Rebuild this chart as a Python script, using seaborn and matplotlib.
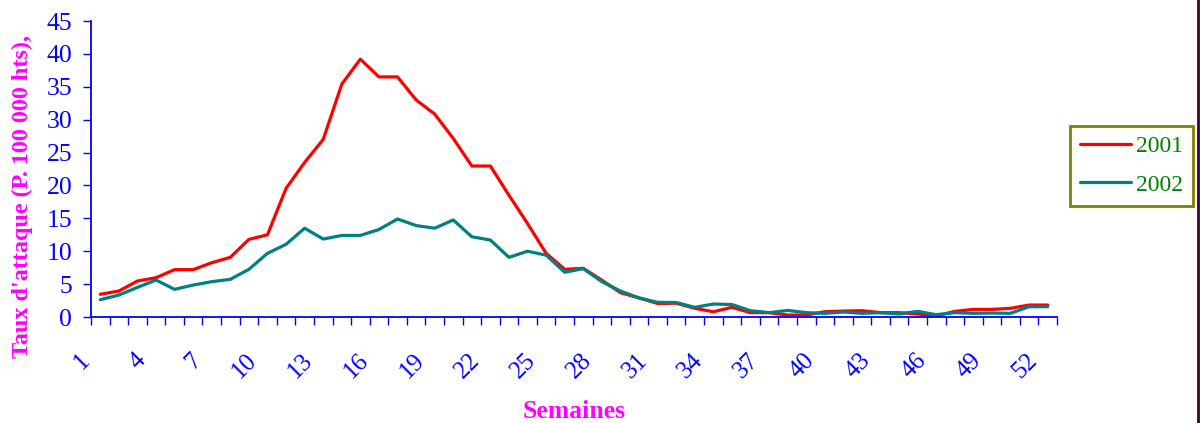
import matplotlib
matplotlib.use("Agg")
import matplotlib.pyplot as plt
import matplotlib.transforms as mtransforms
from matplotlib.lines import Line2D
import numpy as np
import pandas as pd
import seaborn as sns

# ---- data ----
weeks = list(range(1, 53))
tick_weeks = list(range(1, 53, 3))
tick_labels = [str(w) for w in tick_weeks]
series_names = ["2001", "2002"]
rate_2001 = [3.45, 3.95, 5.47, 5.97, 7.2, 7.2, 8.25, 9.07, 11.8, 12.5,
             19.55, 23.5, 27.0, 35.4, 39.2, 36.5, 36.5, 33.0, 30.85, 27.15,
             22.95, 22.95, 18.5, 14.2, 9.68, 7.25, 7.4, 5.6, 3.7, 2.9,
             2.05, 2.1, 1.32, 0.8, 1.47, 0.66, 0.66, 0.3, 0.3, 0.8,
             0.9, 0.96, 0.66, 0.66, 0.46, 0.15, 0.86, 1.16, 1.16, 1.32,
             1.82, 1.82]
rate_2002 = [2.63, 3.34, 4.5, 5.62, 4.2, 4.86, 5.37, 5.73, 7.25, 9.68,
             11.05, 13.5, 11.85, 12.4, 12.4, 13.3, 14.9, 13.9, 13.5, 14.75,
             12.2, 11.7, 9.07, 10.0, 9.4, 6.8, 7.35, 5.37, 3.95, 2.9,
             2.23, 2.2, 1.47, 1.97, 1.9, 0.96, 0.66, 1.0, 0.66, 0.56,
             0.76, 0.56, 0.66, 0.46, 0.86, 0.35, 0.66, 0.56, 0.6, 0.56,
             1.57, 1.57]
y_ticks = list(range(0, 46, 5))

RED = "#FF0000"
TEAL = "#008080"
BLUE = "#0000FF"
MAGENTA = "#FF00FF"
GREEN = "#008000"
OLIVE = "#808000"

sns.set_style("ticks")
plt.rcParams["font.family"] = ["Liberation Serif", "DejaVu Serif"]

W, H = 1200, 423
fig = plt.figure(figsize=(W / 100, H / 100), dpi=100)
ax = fig.add_axes([91 / W, 1 - 317 / H, (1057 - 91) / W, (317 - 21) / H])

df = pd.DataFrame({
    "Semaine": weeks * 2,
    "Taux": rate_2001 + rate_2002,
    "Annee": [series_names[0]] * len(weeks) + [series_names[1]] * len(weeks),
})
sns.lineplot(data=df, x="Semaine", y="Taux", hue="Annee",
             palette=[RED, TEAL], linewidth=2.3, ax=ax, legend=False)

ax.set_xlim(0.5, 52.5)
ax.set_ylim(0, 45)
ax.set_xlabel("")
ax.set_ylabel("")

ax.set_xticks(tick_weeks)
ax.set_xticklabels(tick_labels)
ax.set_xticks(np.arange(0.5, 53, 1), minor=True)
ax.tick_params(axis="x", which="major", length=0, pad=23, labelsize=18,
               labelcolor=BLUE, labelrotation=45, bottom=True)
ax.tick_params(axis="x", which="minor", length=6, width=1, color=BLUE,
               direction="out", bottom=True)
offset = mtransforms.ScaledTranslation(-6 / 100, 0, fig.dpi_scale_trans)
for lbl in ax.get_xticklabels():
    lbl.set_ha("right")
    lbl.set_va("top")
    lbl.set_transform(lbl.get_transform() + offset)

ax.set_yticks(y_ticks)
ax.tick_params(axis="y", which="major", length=6, width=1, color=BLUE,
               direction="out", pad=7.5, labelsize=18.5, labelcolor=BLUE, left=True)

sns.despine(ax=ax)
for s in ("left", "bottom"):
    ax.spines[s].set_color(BLUE)
    ax.spines[s].set_linewidth(1.3)

fig.text(574 / W, 1 - 418 / H, "Semaines", ha="center", va="baseline",
         fontsize=18.5, weight="bold", color=MAGENTA)
fig.text(22 / W, 1 - 196 / H, "Taux d'attaque (P. 100 000 hts),", ha="center",
         va="center", rotation=90, fontsize=17.4, weight="bold", color=MAGENTA)

handles = [Line2D([], [], color=RED, lw=2.3), Line2D([], [], color=TEAL, lw=2.3)]
leg = fig.legend(handles, series_names, loc="upper left",
                 bbox_to_anchor=(1070 / W, 1 - 126 / H), bbox_transform=fig.transFigure,
                 frameon=True, fancybox=False, edgecolor=OLIVE, framealpha=1,
                 borderaxespad=0, borderpad=0.42, handlelength=2.16,
                 handletextpad=0.21, labelspacing=0.71, fontsize=17)
leg.get_frame().set_linewidth(2)
for t in leg.get_texts():
    t.set_color(GREEN)

fig.add_artist(Line2D([1 - 2.5 / W, 1 - 2.5 / W], [0, 1], transform=fig.transFigure,
                      color="#3a003a", lw=2))

fig.savefig("out.png", dpi=100)
